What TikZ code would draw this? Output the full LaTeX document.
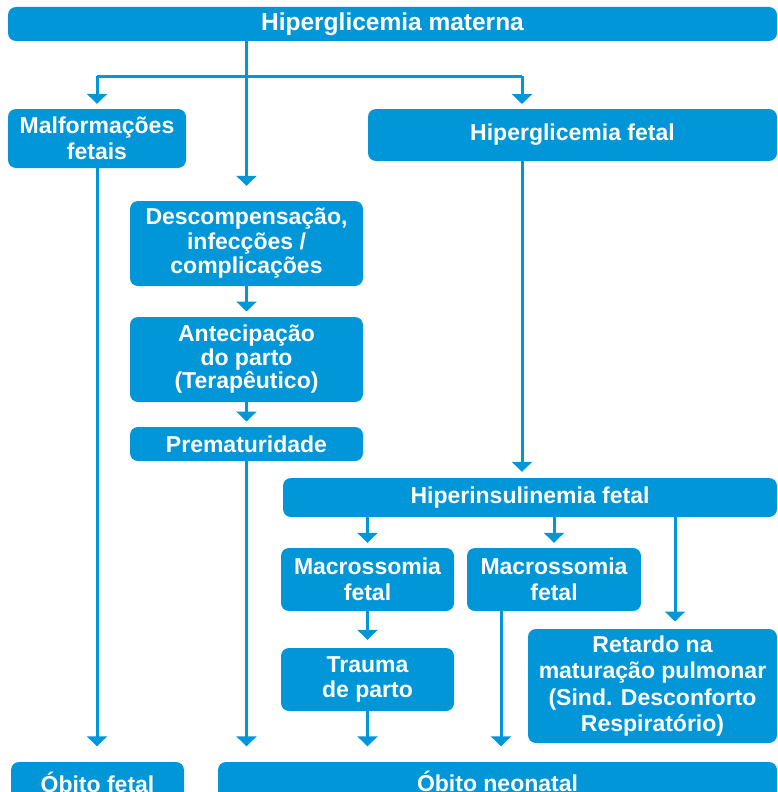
\documentclass[tikz,border=0pt]{standalone}
\usepackage{fontspec}
\setmainfont{Liberation Sans}
\usetikzlibrary{arrows.meta}
\definecolor{flowblue}{RGB}{0,150,215}
\tikzset{
  box/.style={fill=flowblue, rounded corners=8pt, text=white, align=center,
    font=\bfseries\fontsize{23}{25.5}\selectfont, inner sep=0pt},
  arr/.style={draw=flowblue, line width=3pt,
    -{Triangle[width=20pt,length=10pt]}},
  ln/.style={draw=flowblue, line width=3pt}
}
\begin{document}
\begin{tikzpicture}[x=1pt,y=-1pt]
\useasboundingbox (0,0) rectangle (778,792);
\clip (0,0) rectangle (778,792);
% nodes
\node[box, minimum width=769pt, minimum height=34pt, font=\bfseries\fontsize{24.5}{26}\selectfont] (top) at (392.5,24) {Hiperglicemia materna};
\node[box, minimum width=178pt, minimum height=59pt] (malf) at (97,138.5) {Malformações\\fetais};
\node[box, minimum width=409pt, minimum height=52pt] (hfetal) at (572.5,135) {Hiperglicemia fetal};
\node[box, minimum width=233pt, minimum height=85pt, font=\bfseries\fontsize{23}{24.5}\selectfont] (desc) at (246.5,243.5) {Descompensação,\\infecções /\\complicações};
\node[box, minimum width=233pt, minimum height=85pt, font=\bfseries\fontsize{23}{23.5}\selectfont] (antec) at (246.5,359.5) {Antecipação\\do parto\\(Terapêutico)};
\node[box, minimum width=233pt, minimum height=34pt] (prem) at (246.5,444) {Prematuridade};
\node[box, minimum width=494pt, minimum height=39pt] (hins) at (530,497.5) {Hiperinsulinemia fetal};
\node[box, minimum width=173pt, minimum height=63pt] (mac1) at (367.5,579.5) {Macrossomia\\fetal};
\node[box, minimum width=174pt, minimum height=63pt] (mac2) at (554,579.5) {Macrossomia\\fetal};
\node[box, minimum width=173pt, minimum height=63pt] (trauma) at (367.5,679.5) {Trauma\\de parto};
\node[box, minimum width=249pt, minimum height=114pt, font=\bfseries\fontsize{23}{26.5}\selectfont] (ret) at (652.5,686) {Retardo na\\maturação pulmonar\\(Sind. Desconforto\\Respiratório)};
\node[box, minimum width=173pt, minimum height=40pt] (obf) at (97.5,782) {Óbito fetal};
\node[box, minimum width=559pt, minimum height=38pt] (obn) at (497.5,781) {Óbito neonatal};
% coordinates
\coordinate (j) at (246.5,76);
\coordinate (hfin) at (522,109);
\coordinate (rin) at (675,629);
\coordinate (m2out) at (501,611);
% connectors
\draw[arr, shorten >=15pt] (desc.north |- top.south) -- (j) -- (desc.north);
\draw[ln] (j) -- (malf.north |- j);
\draw[ln] (j) -- (hfin |- j);
\draw[arr, shorten >=5pt] (malf.north |- j) -- (malf.north);
\draw[arr, shorten >=5pt] (hfin |- j) -- (hfin);
\draw[arr, shorten >=6pt] (hfin |- hfetal.south) -- (hfin |- hins.north);
\draw[arr, shorten >=15.5pt] (malf.south) -- (malf.south |- obf.north);
\draw[arr, shorten >=5.3pt] (desc.south) -- (antec.north);
\draw[arr, shorten >=5.3pt] (antec.south) -- (prem.north);
\draw[arr, shorten >=15.5pt] (prem.south) -- (prem.south |- obn.north);
\draw[arr, shorten >=5pt] (mac1.north |- hins.south) -- (mac1.north);
\draw[arr, shorten >=5pt] (mac2.north |- hins.south) -- (mac2.north);
\draw[arr, shorten >=7.5pt] (rin |- hins.south) -- (rin);
\draw[arr, shorten >=8pt] (mac1.south) -- (trauma.north);
\draw[arr, shorten >=15.5pt] (trauma.south) -- (trauma.south |- obn.north);
\draw[arr, shorten >=15.5pt] (m2out) -- (m2out |- obn.north);
\end{tikzpicture}
\end{document}
